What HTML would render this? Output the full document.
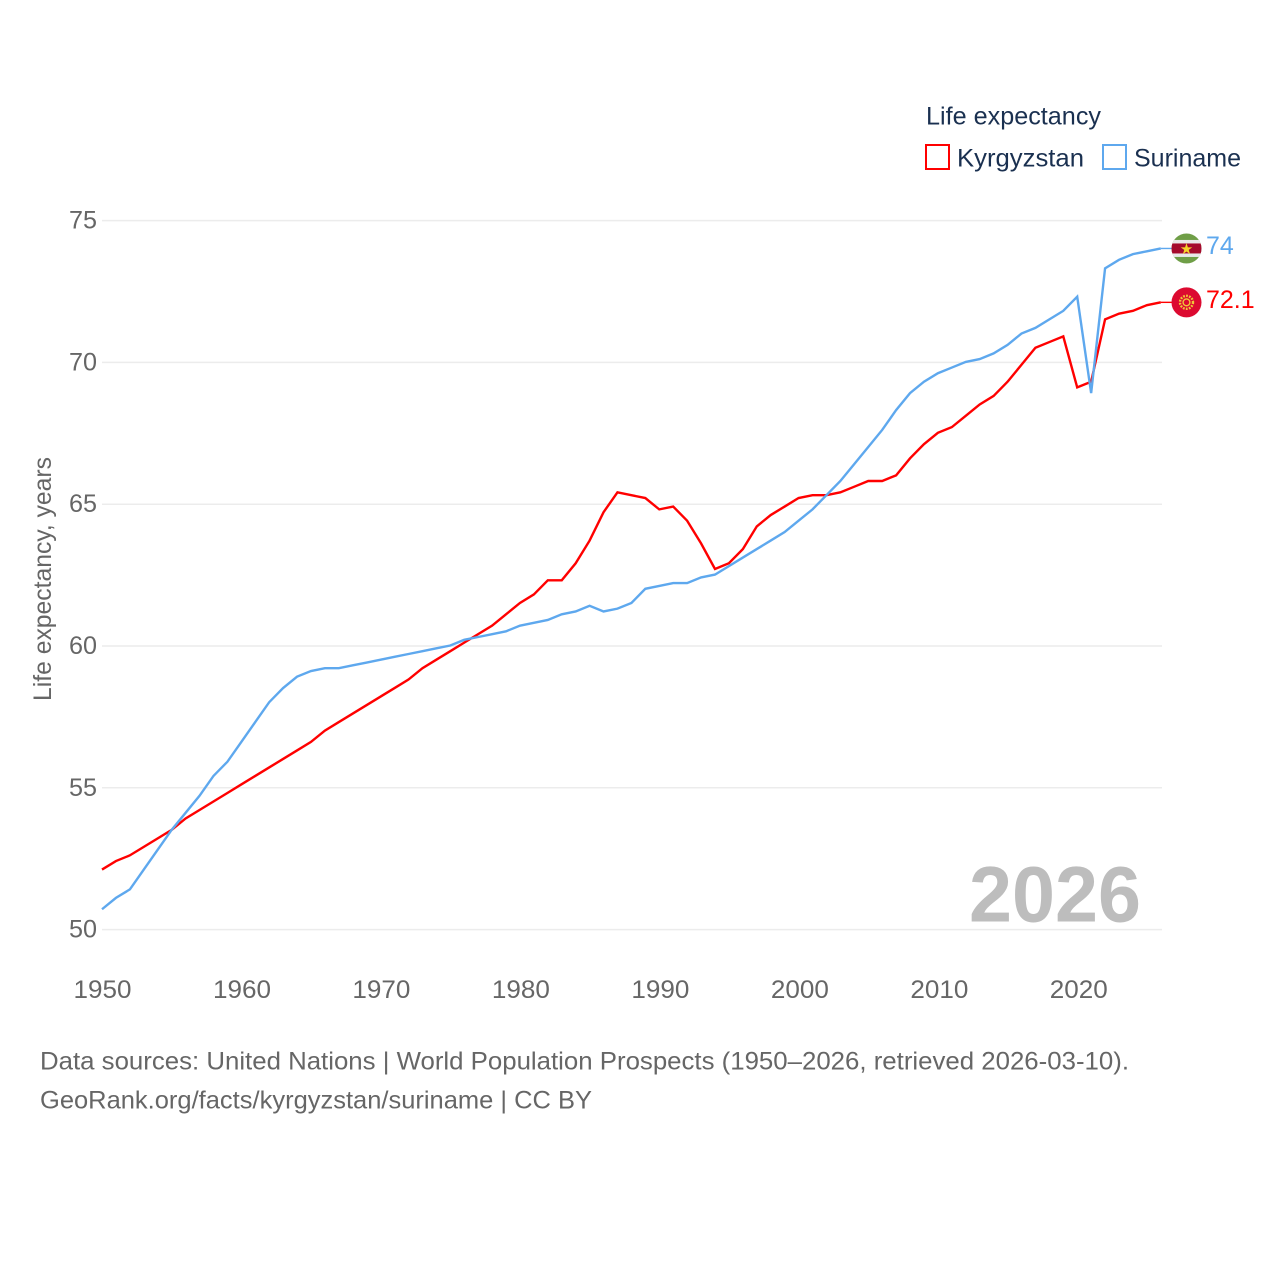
<!DOCTYPE html>
<html lang="en">
<head>
<meta charset="utf-8">
<title>Life expectancy: Kyrgyzstan and Suriname</title>
<style>
html,body{margin:0;padding:0;background:#fff;width:1280px;height:1280px;overflow:hidden}
svg{display:block}
text{font-family:"Liberation Sans",sans-serif}
</style>
</head>
<body>
<svg id="chart" xmlns="http://www.w3.org/2000/svg" width="1280" height="1280" viewBox="0 0 1280 1280">
  <rect width="1280" height="1280" fill="#fff"/>
  <g id="grid"></g>
  <g id="yticks"></g>
  <g id="xticks"></g>
  <text transform="translate(51,701) rotate(-90)" font-size="25" fill="#666" textLength="244" lengthAdjust="spacingAndGlyphs">Life expectancy, years</text>
  <text x="969" y="921.5" font-size="79" font-weight="700" fill="#bdbdbd" textLength="172" lengthAdjust="spacingAndGlyphs">2026</text>
  <g id="series"></g>
  <g id="ends"></g>
  <g>
    <text x="926" y="124.5" font-size="25" fill="#1a3050" textLength="175" lengthAdjust="spacingAndGlyphs">Life expectancy</text>
    <g>
      <rect x="926" y="145" width="23" height="24" fill="#fff" stroke="#ff0000" stroke-width="2"/>
      <text x="957" y="166.5" font-size="25" fill="#1a3050" textLength="127" lengthAdjust="spacingAndGlyphs">Kyrgyzstan</text>
    </g>
    <g>
      <rect x="1103" y="145" width="23" height="24" fill="#fff" stroke="#5ea8ee" stroke-width="2"/>
      <text x="1134" y="166.5" font-size="25" fill="#1a3050" textLength="107" lengthAdjust="spacingAndGlyphs">Suriname</text>
    </g>
  </g>
  <text x="40" y="1069.5" font-size="25" fill="#666" textLength="1089" lengthAdjust="spacingAndGlyphs">Data sources: United Nations | World Population Prospects (1950–2026, retrieved 2026-03-10).</text>
  <text x="40" y="1108.5" font-size="25" fill="#666" textLength="552" lengthAdjust="spacingAndGlyphs">GeoRank.org/facts/kyrgyzstan/suriname | CC BY</text>
</svg>
<script>
const startYear = 1950;
const endYear = 2026;
const yTickValues = [50, 55, 60, 65, 70, 75];
const xTickValues = [1950, 1960, 1970, 1980, 1990, 2000, 2010, 2020];
const kyrgyzstan = [52.1,52.4,52.6,52.9,53.2,53.5,53.9,54.2,54.5,54.8,55.1,55.4,55.7,56.0,56.3,56.6,57.0,57.3,57.6,57.9,58.2,58.5,58.8,59.2,59.5,59.8,60.1,60.4,60.7,61.1,61.5,61.8,62.3,62.3,62.9,63.7,64.7,65.4,65.3,65.2,64.8,64.9,64.4,63.6,62.7,62.9,63.4,64.2,64.6,64.9,65.2,65.3,65.3,65.4,65.6,65.8,65.8,66.0,66.6,67.1,67.5,67.7,68.1,68.5,68.8,69.3,69.9,70.5,70.7,70.9,69.1,69.3,71.5,71.7,71.8,72.0,72.1];
const suriname = [50.7,51.1,51.4,52.1,52.8,53.5,54.1,54.7,55.4,55.9,56.6,57.3,58.0,58.5,58.9,59.1,59.2,59.2,59.3,59.4,59.5,59.6,59.7,59.8,59.9,60.0,60.2,60.3,60.4,60.5,60.7,60.8,60.9,61.1,61.2,61.4,61.2,61.3,61.5,62.0,62.1,62.2,62.2,62.4,62.5,62.8,63.1,63.4,63.7,64.0,64.4,64.8,65.3,65.8,66.4,67.0,67.6,68.3,68.9,69.3,69.6,69.8,70.0,70.1,70.3,70.6,71.0,71.2,71.5,71.8,72.3,68.9,73.3,73.6,73.8,73.9,74.0];

const NS = 'http://www.w3.org/2000/svg';
const plotLeft = 102, plotRight = 1162, plotBottom = 929.6, plotTop = 220.6, seriesRight = 1160.8, seriesShiftY = -0.5;
const xScale = year => plotLeft + (year - startYear) * (seriesRight - plotLeft) / (endYear - startYear);
const xTickScale = year => plotLeft + 0.5 + (year - startYear) * (plotRight - plotLeft) / (endYear - startYear);
const yScale = value => plotBottom - (value - yTickValues[0]) * (plotBottom - plotTop) / (yTickValues[yTickValues.length - 1] - yTickValues[0]);
function make(tag, attrs, parent) {
  const el = document.createElementNS(NS, tag);
  for (const k in attrs) el.setAttribute(k, attrs[k]);
  parent.appendChild(el);
  return el;
}
const grid = document.getElementById('grid');
const yticks = document.getElementById('yticks');
const xticks = document.getElementById('xticks');
const seriesGroup = document.getElementById('series');
const ends = document.getElementById('ends');

yTickValues.forEach(v => {
  const line = make('line', {x1: plotLeft, x2: plotRight, y1: yScale(v), y2: yScale(v), stroke: '#ececec', 'stroke-width': 1.5}, grid);
  
  
  const label = make('text', {x: 69, y: yScale(v) + 8, 'font-size': 25, fill: '#666', textLength: 28, lengthAdjust: 'spacingAndGlyphs'}, yticks);
  
  
  label.textContent = v;
});
xTickValues.forEach(v => {
  const label = make('text', {x: xTickScale(v), y: 998, 'font-size': 25, fill: '#666', 'text-anchor': 'middle', textLength: 58, lengthAdjust: 'spacingAndGlyphs'}, xticks);
  
  
  label.textContent = v;
});

function drawSeries(values, color, name) {
  const d = values.map((v, i) => (i ? 'L' : 'M') + xScale(startYear + i).toFixed(2) + ' ' + (yScale(v) + seriesShiftY).toFixed(2)).join('');
  const path = make('path', {d: d, fill: 'none', stroke: color, 'stroke-width': 2.4, 'stroke-linejoin': 'miter'}, seriesGroup);
  
  
  const last = values[values.length - 1];
  const lastX = xScale(startYear + values.length - 1);
  const lastY = yScale(last) + seriesShiftY;
  const connector = make('line', {x1: lastX, x2: 1172, y1: lastY, y2: lastY, stroke: color, 'stroke-width': 1.4}, ends);
  
  
  const label = make('text', {x: 1206, y: lastY + 5.5, 'font-size': 25, fill: color}, ends);
  
  
  label.textContent = last;
  return lastY;
}

const cyK = drawSeries(kyrgyzstan, '#ff0000', 'kyrgyzstan');
const cyS = drawSeries(suriname, '#5ea8ee', 'suriname');

const clipDefs = make('defs', {}, ends);
const clip = make('clipPath', {id: 'sr-clip'}, clipDefs);
make('circle', {cx: 1186.5, cy: cyS, r: 15}, clip);

const srFlag = make('g', {'clip-path': 'url(#sr-clip)'}, ends);


make('rect', {x: 1171, y: cyS - 15, width: 31, height: 30, fill: '#6f9e47'}, srFlag);
make('rect', {x: 1171, y: cyS - 8.5, width: 31, height: 17, fill: '#e8e8e8'}, srFlag);
make('rect', {x: 1171, y: cyS - 5, width: 31, height: 10, fill: '#a50a2c'}, srFlag);
const starS = make('text', {x: 1186.5, y: cyS + 5.5, 'font-size': 15, fill: '#f5d32a', 'text-anchor': 'middle', style: 'font-family:"DejaVu Sans",sans-serif'}, srFlag);


starS.textContent = '★';

const krFlag = make('g', {}, ends);


make('circle', {cx: 1186.5, cy: cyK, r: 15, fill: '#dc0a30'}, krFlag);
make('circle', {cx: 1186.5, cy: cyK, r: 6.5, fill: 'none', stroke: '#f0c53a', 'stroke-width': 2.4, 'stroke-dasharray': '1.8 1.2'}, krFlag);
make('circle', {cx: 1186.5, cy: cyK, r: 3.4, fill: 'none', stroke: '#f0c53a', 'stroke-width': 1.4}, krFlag);
</script>
</body>
</html>
